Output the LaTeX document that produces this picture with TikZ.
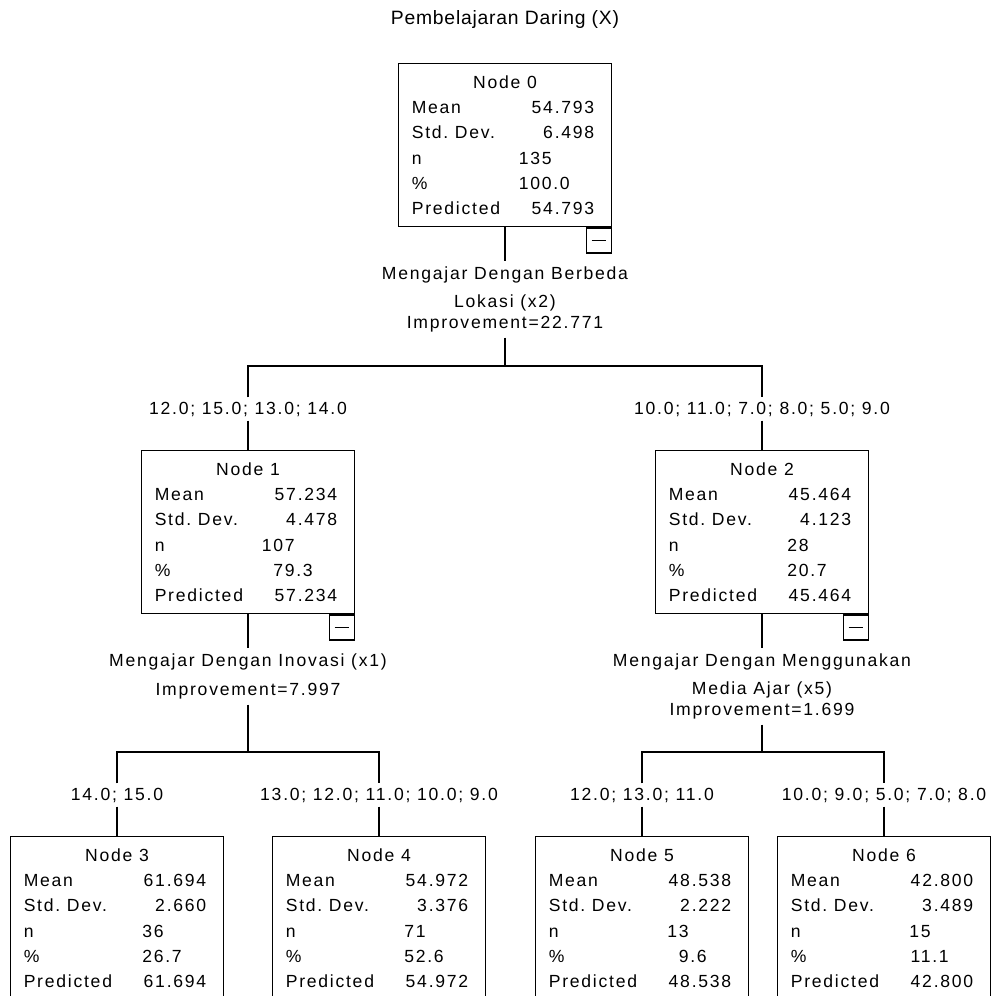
\documentclass[tikz,border=0pt]{standalone}
\usepackage{fontspec}
\usepackage{tikz}
\setmainfont{Liberation Sans}
\newfontfamily\spssfont[LetterSpace=10]{Liberation Sans}
\newfontfamily\titlefont[LetterSpace=4]{Liberation Sans}
\usetikzlibrary{positioning}
\frenchspacing

\newcommand{\nodestats}[6]{%
    \vbox{\baselineskip=14.4pt
        \hbox to 3.73cm{\hfil #1\hfil}
        \hbox to 3.65cm{Mean\hfil #2}
        \hbox to 3.65cm{Std. Dev.\hfil #3}
        \hbox to 2.8cm{n\hfil #4}
        \hbox to 3.16cm{\%\hfil #5}
        \hbox to 3.65cm{Predicted\hfil #6}}}

\begin{document}
\begin{tikzpicture}[x=0.02cm, y=-0.02cm,
    every node/.style={font=\spssfont},
    edge/.style={line width=0.8pt},
    statbox/.style={draw, line width=0.8pt, fill=white, minimum width=4.25cm, minimum height=3.26cm, inner xsep=0.26cm, inner ysep=0pt, anchor=north},
    minusbox/.style={draw, line width=0.8pt, minimum size=0.5cm, inner sep=0pt, anchor=north east,
        path picture={\draw[line width=0.8pt] ([xshift=0.11cm]path picture bounding box.west) -- ([xshift=-0.11cm]path picture bounding box.east);}},
    split/.style={align=center, inner xsep=0pt, inner ysep=0.1cm},
    cut/.style={inner xsep=0pt, inner ysep=0.08cm}]
    \useasboundingbox (0,0) rectangle (992,996);
    \clip (0,0) rectangle (992,996);

    \node[font=\titlefont\fontsize{11}{13}\selectfont] (title) at (505,20) {Pembelajaran Daring (X)};

    \node[statbox] (n0) at (505,63) {\nodestats{Node 0}{54.793}{6.498}{135}{100.0}{54.793}};
    \node[minusbox] (m0) at (n0.south east) {};

    \node[split, below=0.68cm of n0] (s0) {
        Mengajar Dengan Berbeda\\[0.14cm] Lokasi (x2)\\ Improvement=22.771
    };
    \coordinate (b0) at (505,366);

    \node[cut] (c1) at (248,409) {12.0; 15.0; 13.0; 14.0};
    \node[cut] (c2) at (762,409) {10.0; 11.0; 7.0; 8.0; 5.0; 9.0};

    \node[statbox] (n1) at (248,450) {\nodestats{Node 1}{57.234}{4.478}{107}{79.3}{57.234}};
    \node[minusbox] (m1) at (n1.south east) {};
    \node[statbox] (n2) at (762,450) {\nodestats{Node 2}{45.464}{4.123}{28}{20.7}{45.464}};
    \node[minusbox] (m2) at (n2.south east) {};

    \node[split, below=0.68cm of n1] (s1) {
        Mengajar Dengan Inovasi (x1)\\[0.16cm] Improvement=7.997
    };
    \node[split, below=0.68cm of n2] (s2) {
        Mengajar Dengan Menggunakan\\[0.14cm] Media Ajar (x5)\\ Improvement=1.699
    };
    \coordinate (b1) at (248,752);
    \coordinate (b2) at (762,752);

    \node[cut] (c3) at (117,795) {14.0; 15.0};
    \node[cut] (c4) at (379,795) {13.0; 12.0; 11.0; 10.0; 9.0};
    \node[cut] (c5) at (642,795) {12.0; 13.0; 11.0};
    \node[cut] (c6) at (884,795) {10.0; 9.0; 5.0; 7.0; 8.0};

    \node[statbox] (n3) at (117,836) {\nodestats{Node 3}{61.694}{2.660}{36}{26.7}{61.694}};
    \node[statbox] (n4) at (379,836) {\nodestats{Node 4}{54.972}{3.376}{71}{52.6}{54.972}};
    \node[statbox] (n5) at (642,836) {\nodestats{Node 5}{48.538}{2.222}{13}{9.6}{48.538}};
    \node[statbox] (n6) at (884,836) {\nodestats{Node 6}{42.800}{3.489}{15}{11.1}{42.800}};

    \draw[edge] (n0.south) -- (s0.north);
    \draw[edge] (s0.south) -- (b0);
    \draw[edge] (c1.north) |- (b0) -| (c2.north);
    \draw[edge] (c1.south) -- (n1.north);
    \draw[edge] (c2.south) -- (n2.north);

    \draw[edge] (n1.south) -- (s1.north);
    \draw[edge] (s1.south) -- (b1);
    \draw[edge] (c3.north) |- (b1) -| (c4.north);
    \draw[edge] (c3.south) -- (n3.north);
    \draw[edge] (c4.south) -- (n4.north);

    \draw[edge] (n2.south) -- (s2.north);
    \draw[edge] (s2.south) -- (b2);
    \draw[edge] (c5.north) |- (b2) -| (c6.north);
    \draw[edge] (c5.south) -- (n5.north);
    \draw[edge] (c6.south) -- (n6.north);
\end{tikzpicture}
\end{document}
